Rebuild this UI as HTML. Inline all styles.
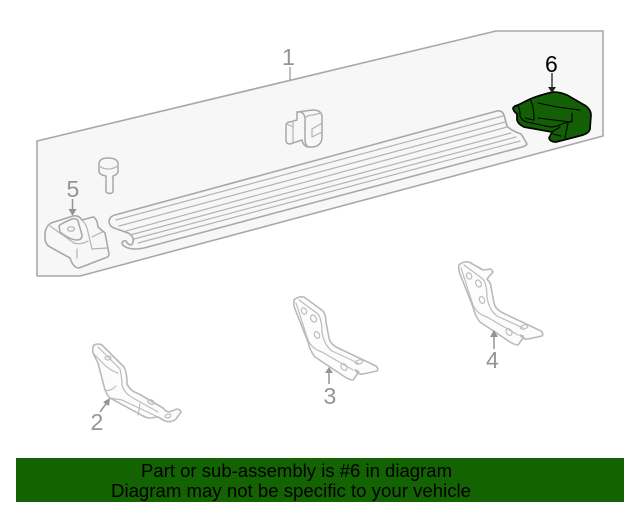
<!DOCTYPE html>
<html>
<head>
<meta charset="utf-8">
<style>
html,body{margin:0;padding:0;background:#fff;width:640px;height:512px;overflow:hidden}
svg{display:block}
text{font-family:"Liberation Sans",sans-serif}
.g{fill:none;stroke:#a8a8a8;stroke-width:1.5;stroke-linejoin:round;stroke-linecap:round}
.l{fill:none;stroke:#b4b4b4;stroke-width:1.2;stroke-linejoin:round;stroke-linecap:round}
.f{fill:#f7f7f7;stroke:#a8a8a8;stroke-width:1.6;stroke-linejoin:round}
.b{fill:#fcfcfc;stroke:#bababa;stroke-width:1.6;stroke-linejoin:round}
.m{fill:none;stroke:#bdbdbd;stroke-width:1.2;stroke-linejoin:round;stroke-linecap:round}
.n{font-size:23px;fill:#949494}
.k{fill:none;stroke:#000;stroke-width:1.1;stroke-linejoin:round;stroke-linecap:round}
</style>
</head>
<body>
<svg width="640" height="512" viewBox="0 0 640 512" xmlns="http://www.w3.org/2000/svg">
<!-- plate -->
<path class="f" d="M37 141 L496 31 L603 31 L603 136 L80 276 L37 276 Z"/>

<!-- step -->
<path class="f" d="M115 215 L497 111 Q502 110 504 115 L507 126 Q510 130 521 134 L523 137 L527 144 Q526 146 522 147 L144 248 Q134 250 128 248 Q122 246 122 243 Q123 240 126 241 Q128 245 131 245 Q134 243 133 238 Q131 234 128 233 L114 228 Q109 226 109 221 Q110 216 115 215 Z"/>
<path class="l" d="M116 220 L503 116 M119 226 L505 122 M126 231 L507 127 M130 235 L511 133 M134 239 L516 137 M138 243 L520 141"/>

<!-- clip -->
<path class="g" d="M297 112 L313 110 Q321 110 322 116 L322 138 Q321 146 313 147 L308 147 Q303 146 302 140 L290 144 Q286 144 286 140 L286 126 Q286 122 290 122 L297 120 Z"/>
<path class="g" d="M297 112 Q304 111 305 118 L305 140 Q305 146 309 147"/>
<path class="l" d="M305 118 Q308 115 313 115 L321 113 M322 123 L312 129 L312 137 L322 132 M293 121 L293 143 M287 124 L293 127"/>

<!-- bolt -->
<path class="g" d="M99 163 Q100 158 108 158 Q117 158 118 163 L118 172 Q117 175 113 176 L113 192 Q110 195 106 192 L106 176 Q100 175 99 172 Z"/>
<path class="l" d="M99 166 Q108 172 118 166"/>

<!-- part 5 -->
<path class="f" d="M45 233 Q46 226 51 223 L73 216 Q79 215 82 220 L93 217 Q97 218 98 227 L105 233 L109 254 Q109 257 105 258 L79 268 Q75 268 72 263 L70 258 L50 247 Q45 244 45 238 Z"/>
<path class="g" d="M59 226 Q60 224 72 219 Q77 218 78 221 L82 235 Q82 240 77 240 Q70 240 60 232 Z"/>
<ellipse class="l" cx="71" cy="229" rx="3.5" ry="2.2"/>
<path class="l" d="M50 226 L74 243 Q82 245 88 241 M82 220 Q87 225 88 232 L92 249 L107 248 M92 237 L102 232 M77 249 L77 258"/>

<!-- bracket 2 -->
<path class="b" d="M94 345 Q98 343 102 345 L124 367 Q127 372 127 384 Q130 391 139 394 L163 408 Q166 412 169 412 L177 409 Q181 410 181 412 L176 419 Q171 423 165 421 L158 417 L150 418 Q147 418 145 417 L110 398 Q107 395 105 390 L98 363 L93 353 Q92 348 94 345 Z"/>
<path class="m" d="M98 347 L120 369 Q122 378 122 385 Q124 393 133 398 L158 412 M93 353 L98 358 Q108 370 118 373 M105 390 Q110 392 116 386 M110 398 L122 400 L158 417 M140 404 L138 415"/>
<ellipse class="m" cx="108" cy="358" rx="3" ry="2"/>
<ellipse class="m" cx="151" cy="402" rx="3.5" ry="2" transform="rotate(25 151 402)"/>
<ellipse class="m" cx="168" cy="416" rx="3" ry="1.8" transform="rotate(-15 168 416)"/>

<!-- bracket 3 -->
<g>
<path class="b" d="M294 300 Q298 296 304 297 L323 311 Q326 315 326 322 L329 338 Q330 344 338 348 L376 366 Q379 369 377 371 L363 374 Q359 375 358 371 L355 370 L358 373 L353 380 Q350 380 345 377 L330 367 L315 357 Q310 351 308 342 L295 309 Q293 304 294 300 Z"/>
<path class="m" d="M299 300 L318 314 Q322 320 322 332 Q324 345 332 351 L358 363 M296 303 L308 340 Q312 349 322 352 L353 370"/>
<ellipse class="m" cx="304" cy="311" rx="2.5" ry="3.3" transform="rotate(-30 304 311)"/>
<ellipse class="m" cx="313.500" cy="318.500" rx="2.700" ry="3.700" transform="rotate(-30 313.500 318.500)"/>
<ellipse class="m" cx="317" cy="335" rx="2.500" ry="3.500" transform="rotate(-25 317 335)"/>
<ellipse class="m" cx="344" cy="367" rx="2.700" ry="3.700" transform="rotate(-35 344 367)"/>
<ellipse class="m" cx="359" cy="362" rx="3.800" ry="2" transform="rotate(-15 359 362)"/>
</g>

<!-- bracket 4 -->
<g transform="translate(165 -35)">
<path class="b" d="M294 300 Q298 296 304 297 L318 305 L326 304 L328 307 L322 314 Q326 318 326 322 L329 338 Q330 344 338 348 L376 366 Q379 369 377 371 L363 374 Q359 375 358 371 L355 370 L358 373 L353 380 Q350 380 345 377 L330 367 L315 357 Q310 351 308 342 L295 309 Q293 304 294 300 Z"/>
<path class="m" d="M299 300 L318 314 Q322 320 322 332 Q324 345 332 351 L358 363 M296 303 L308 340 Q312 349 322 352 L353 370"/>
<ellipse class="m" cx="304" cy="311" rx="2.5" ry="3.3" transform="rotate(-30 304 311)"/>
<ellipse class="m" cx="313.500" cy="318.500" rx="2.700" ry="3.700" transform="rotate(-30 313.500 318.500)"/>
<ellipse class="m" cx="317" cy="335" rx="2.500" ry="3.500" transform="rotate(-25 317 335)"/>
<ellipse class="m" cx="344" cy="367" rx="2.700" ry="3.700" transform="rotate(-35 344 367)"/>
<ellipse class="m" cx="359" cy="362" rx="3.800" ry="2" transform="rotate(-15 359 362)"/>
</g>

<!-- part 6 green -->
<path d="M513 108 Q514 106 518 105 L530 99 Q540 95 553 92 Q560 92 567 95 L586 106 Q591 110 591 115 L590 129 Q589 133 583 135 L556 142 Q550 142 549 138 L552 132 L524 127 Q518 124 517 120 L517 114 Q513 111 513 108 Z" fill="#135f05" stroke="#000" stroke-width="1.7" stroke-linejoin="round"/>
<path class="k" d="M518 106 Q520 108 520 116 Q522 121 527 122 L550 127 Q556 127 562 124 L572 121 M525 118 L533 120 M530 99 Q534 106 534 120 M538 118 L570 122 M538 103 L557 107 L580 110 M572 113 L572 122 M568 123 L565 138 M552 132 L560 127 M553 134 L561 136"/>

<!-- leaders and labels -->
<text class="n" x="282" y="65">1</text>
<path d="M290 67 L290 80" stroke="#a8a8a8" stroke-width="1.5" fill="none"/>

<text x="545" y="72" font-size="23" fill="#000">6</text>
<path d="M552 73 L552 88" stroke="#222" stroke-width="1.3" fill="none"/>
<path d="M548 87 L556 87 L552 93 Z" fill="#222"/>

<text class="n" x="66.500" y="197">5</text>
<path d="M72.500 199 L72.500 211" stroke="#949494" stroke-width="1.5" fill="none"/>
<path d="M68.500 209 L76.500 209 L72.500 216 Z" fill="#949494"/>

<text class="n" x="90.500" y="430">2</text>
<path d="M100 412 L108 401" stroke="#949494" stroke-width="1.5" fill="none"/>
<path d="M103 402 L110 398 L109 406 Z" fill="#949494"/>

<text class="n" x="323.500" y="404">3</text>
<path d="M329 384 L329 371" stroke="#949494" stroke-width="1.5" fill="none"/>
<path d="M325 373 L333 373 L329 367 Z" fill="#949494"/>

<text class="n" x="486" y="368">4</text>
<path d="M494 349 L494 335" stroke="#949494" stroke-width="1.5" fill="none"/>
<path d="M490 337 L498 337 L494 330 Z" fill="#949494"/>

<!-- banner -->
<rect x="16" y="458" width="608" height="44" fill="#136303"/>
<text x="141" y="477" font-size="18" fill="#000" textLength="311" lengthAdjust="spacingAndGlyphs">Part or sub-assembly is #6 in diagram</text>
<text x="111" y="497" font-size="18" fill="#000" textLength="360" lengthAdjust="spacingAndGlyphs">Diagram may not be specific to your vehicle</text>
</svg>
</body>
</html>
